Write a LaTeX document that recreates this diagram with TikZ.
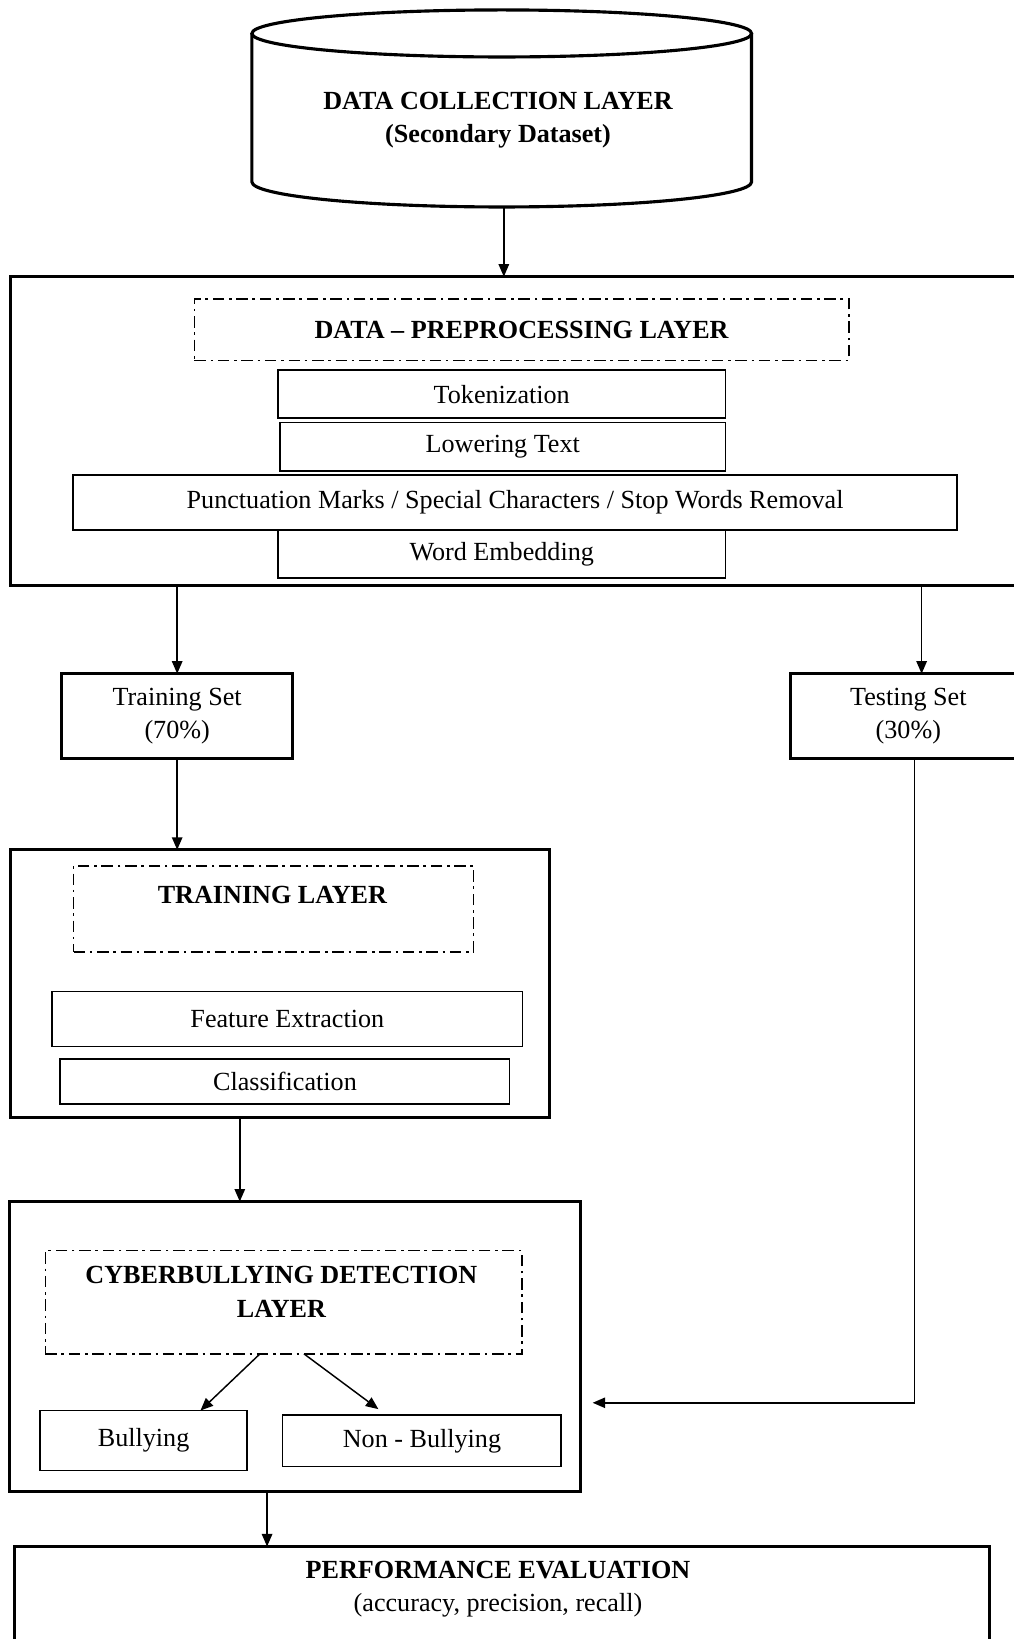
\documentclass[tikz,border=0pt]{standalone}
\usepackage{fontspec}
\setmainfont{Liberation Serif}
\usetikzlibrary{arrows.meta}
\newcommand\fsz{\fontsize{25}{32}\selectfont}
\tikzset{
  base/.style={inner sep=0pt, outer sep=0pt, align=center, font=\fsz},
  layer/.style={base, draw, line width=3pt},
  sub/.style={base, draw, line width=1.6pt},
  dd/.style={base, draw, line width=1.4pt, dash pattern=on 11pt off 4.5pt on 2.5pt off 4.5pt},
  txt/.style={base},
  conn/.style={line width=1.4pt, -{Triangle[length=12pt,width=10pt]}},
  cylline/.style={line width=3pt},
}
\begin{document}
\begin{tikzpicture}[x=1pt,y=-1pt]
\clip (0,0) rectangle (970,1568);
\fill[white] (0,0) rectangle (970,1568);

% cylinder
\node[base, minimum width=478pt, minimum height=188.4pt] (dc) at (480,103.8) {};
\draw[cylline] (241,32) -- (241,174) arc[start angle=180,end angle=360,x radius=239pt,y radius=24pt] -- (719,32);
\draw[cylline] (480,32) ellipse [x radius=239pt, y radius=22.5pt];
\node[txt, font=\fsz\bfseries] (dct) at (476.5,115) {DATA COLLECTION LAYER\\(Secondary Dataset)};

% preprocessing layer
\node[layer, minimum width=980pt, minimum height=295.3pt] (pre) at (500,412.35) {};
\node[dd, minimum width=626pt, minimum height=59pt, font=\fsz\bfseries] (pdash) at (499,315.5) {DATA – PREPROCESSING LAYER};
\node[sub, minimum width=428pt, minimum height=46pt] (tok) at (480,377) {Tokenization};
\node[sub, minimum width=426.3pt, minimum height=46.6pt] (low) at (481,427.6) {Lowering Text};
\node[sub, minimum width=845.8pt, minimum height=52.6pt] (pun) at (492.8,480.7) {Punctuation Marks / Special Characters / Stop Words Removal};
\node[sub, minimum width=428pt, minimum height=46.2pt] (wem) at (480,530.1) {Word Embedding};

% sets
\node[layer, minimum width=221pt, minimum height=81pt] (trs) at (169.5,685) {Training Set\\(70\%)};
\node[layer, minimum width=226pt, minimum height=81pt] (tes) at (869,685) {Testing Set\\(30\%)};

% training layer
\node[layer, minimum width=516pt, minimum height=256pt] (tl) at (268,941) {};
\node[dd, minimum width=382.6pt, minimum height=82.5pt] (tdash) at (261.7,869.65) {};
\node[txt, font=\fsz\bfseries] (tdt) at (260.6,856) {TRAINING LAYER};
\node[sub, minimum width=450.2pt, minimum height=52.4pt] (fex) at (274.9,974.8) {Feature Extraction};
\node[sub, minimum width=429.8pt, minimum height=42.7pt] (cls) at (272.6,1034.65) {Classification};

% detection layer
\node[layer, minimum width=546.4pt, minimum height=277.5pt] (det) at (282.5,1288.25) {};
\node[dd, minimum width=456pt, minimum height=98.8pt] (cdash) at (271.3,1245.8) {};
\node[txt, font=\fsz\bfseries] (cdt) at (269.2,1236) {CYBERBULLYING DETECTION\\LAYER};
\node[sub, minimum width=198pt, minimum height=57.4pt] (bul) at (137.4,1378.1) {Bullying};
\node[sub, minimum width=266.6pt, minimum height=49.2pt] (nb) at (403.7,1378.4) {Non - Bullying};

% performance
\node[layer, minimum width=933.1pt, minimum height=120.5pt] (perf) at (480.15,1539.75) {};
\node[txt] (pft) at (476.4,1520.2) {{\bfseries PERFORMANCE EVALUATION}\\(accuracy, precision, recall)};

% connectors
\draw[conn] ([xshift=2pt]dc.south) -- ([xshift=2pt]dc.south |- pre.north);
\draw[conn] (trs.north |- pre.south) -- (trs.north);
\draw[conn] ([xshift=12.7pt]tes.north |- pre.south) -- ([xshift=12.7pt]tes.north);
\draw[conn] (trs.south) -- (trs.south |- tl.north);
\draw[conn] ([xshift=-38.6pt]tl.south) -- ([xshift=-38.6pt]tl.south |- det.north);
\draw[conn] ([xshift=-22.6pt]cdash.south) -- ([xshift=54.4pt]bul.north);
\draw[conn] ([xshift=19.5pt]cdash.south) -- ([xshift=-41.7pt,yshift=5.7pt]nb.north);
\draw[conn] ([xshift=-27pt]det.south) -- ([xshift=-27pt]det.south |- perf.north);
\coordinate (tin) at (567,1342);
\draw[conn] ([xshift=6pt]tes.south) |- (tin);
\end{tikzpicture}
\end{document}
